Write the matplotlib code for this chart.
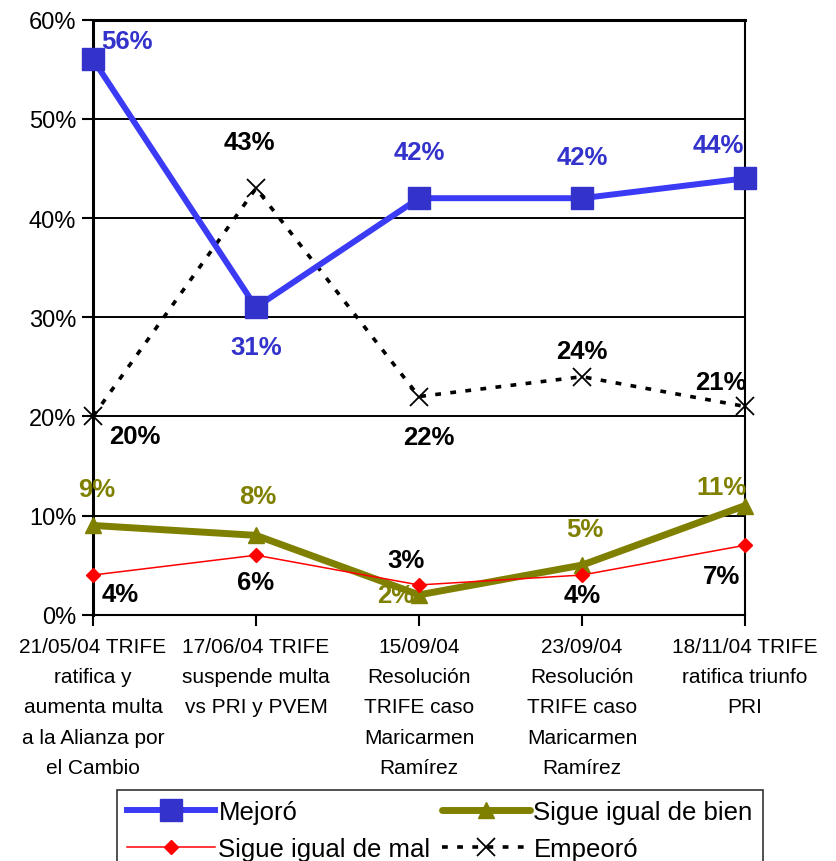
import matplotlib
matplotlib.use('Agg')
from matplotlib import pyplot as plt
from matplotlib.ticker import PercentFormatter

plt.rcParams['font.family'] = ['Liberation Sans', 'DejaVu Sans']

categories = ['21/05/04 TRIFE\nratifica y\naumenta multa\na la Alianza por\nel Cambio',
              '17/06/04 TRIFE\nsuspende multa\nvs PRI y PVEM',
              '15/09/04\nResolución\nTRIFE caso\nMaricarmen\nRamírez',
              '23/09/04\nResolución\nTRIFE caso\nMaricarmen\nRamírez',
              '18/11/04 TRIFE\nratifica triunfo\nPRI']
mejoro = [56, 31, 42, 42, 44]
igual_bien = [9, 8, 2, 5, 11]
igual_mal = [4, 6, 3, 4, 7]
empeoro = [20, 43, 22, 24, 21]

# label offsets in pixels (dx, dy), dy positive = up
off_mejoro = [(34, 18), (0, -40), (0, 46), (0, 41), (-27, 33)]
off_bien = [(4, 36), (2, 39), (-23, 0), (3, 36), (-24, 19)]
off_mal = [(27, -19), (0, -27), (-13, 25), (0, -20), (-23, -31)]
off_emp = [(42, -20), (-7, 46), (10, -40), (0, 26), (-24, 24)]

fig = plt.figure(figsize=(8.36, 8.62), dpi=100)
ax = fig.add_axes([93 / 836, 1 - 615.7 / 862, (745 - 93) / 836, (615.7 - 20.7) / 862])

x = list(range(len(categories)))

ax.plot(x, igual_bien, color='#808000', lw=5, marker='^', ms=11,
        label='Sigue igual de bien', zorder=3, clip_on=False, solid_capstyle='round')
ax.plot(x, igual_mal, color='#FF0000', lw=1.1, marker='D', ms=7,
        label='Sigue igual de mal', zorder=4, clip_on=False)
ax.plot(x, empeoro, color='black', lw=2.6, dashes=(1.6, 2.6), marker='x', ms=13,
        mew=1.3, label='Empeoró', zorder=5, clip_on=False)
ax.plot(x, mejoro, color='#3B3BF5', lw=4.3, marker='s', ms=16,
        mfc='#3333CC', mec='#3333CC', label='Mejoró', zorder=6, clip_on=False)

def put_labels(vals, offs, color):
    for i, (v, o) in enumerate(zip(vals, offs)):
        ax.annotate(f'{v}%', (i, v), xytext=o, textcoords='offset pixels',
                    ha='center', va='center', fontsize=18.5, fontweight='bold',
                    color=color, zorder=7)

put_labels(mejoro, off_mejoro, '#3333CC')
put_labels(igual_bien, off_bien, '#808000')
put_labels(igual_mal, off_mal, 'black')
put_labels(empeoro, off_emp, 'black')

ax.set_xlim(0, len(categories) - 1)
ax.set_ylim(0, 60)
ax.set_yticks(range(0, 61, 10))
ax.yaxis.set_major_formatter(PercentFormatter(decimals=0))
ax.set_xticks(x)
ax.set_xticklabels(categories, fontsize=15, linespacing=1.75)
ax.tick_params(axis='y', labelsize=17, length=8, width=1.5, pad=4)
ax.tick_params(axis='x', length=8, width=1.5, pad=8)
ax.grid(axis='y', color='black', lw=1.4)
ax.set_axisbelow(True)
for s in ax.spines.values():
    s.set_linewidth(1.5)
ax.spines['left'].set_linewidth(2.2)
ax.spines['top'].set_linewidth(2.2)

h, l = ax.get_legend_handles_labels()
order = [3, 1, 0, 2]
leg = fig.legend([h[i] for i in order], [l[i] for i in order], ncol=2,
                 loc='upper left', bbox_to_anchor=(117 / 836, 1 - 791 / 862),
                 fontsize=18.5, frameon=True, fancybox=False, edgecolor='black',
                 handlelength=3.4, handletextpad=0.15, columnspacing=0.45,
                 borderpad=0.4, labelspacing=0.5, borderaxespad=0)
leg.get_frame().set_linewidth(1.2)

fig.savefig('out.png', dpi=100)
